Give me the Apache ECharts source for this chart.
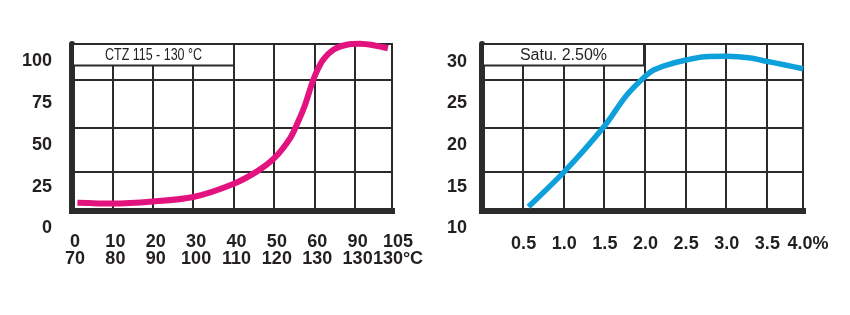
<!DOCTYPE html>
<html>
<head>
<meta charset="utf-8">
<script src="https://cdn.jsdelivr.net/npm/echarts@6/dist/echarts.min.js"></script>
<style>
  html, body { margin: 0; padding: 0; background: #fff; }
  #chart { width: 850px; height: 315px; }
</style>
</head>
<body>
<div id="chart"></div>
<script>
// left chart: x in tick-index units (ticks are labelled by two rows)
const leftTopLabels = ['0', '10', '20', '30', '40', '50', '60', '90', '105'];
const leftBottomLabels = ['70', '80', '90', '100', '110', '120', '130', '130', '130°C'];
const leftYTicks = [0, 25, 50, 75, 100];
const leftCurveX = [0.06, 0.91, 1.92, 2.93, 3.92, 4.51, 4.94, 5.33, 5.53, 5.70, 5.86, 5.99, 6.15, 6.40, 6.73, 7.06, 7.39, 7.75];
const leftCurveY = [15.4, 14.9, 16.1, 18.8, 26.6, 34.1, 42.1, 54.0, 64.0, 73.9, 85.9, 93.9, 100.8, 106.7, 109.7, 110.3, 109.4, 107.6];

// right chart: saturation %
const rightXTicks = [0.5, 1.0, 1.5, 2.0, 2.5, 3.0, 3.5, 4.0];
const rightYTicks = [10, 15, 20, 25, 30];
const rightCurveX = [0.56, 1.01, 1.48, 1.77, 1.99, 2.10, 2.26, 2.50, 2.73, 3.0, 3.29, 3.49, 3.72, 3.94];
const rightCurveY = [12.6, 16.9, 22.1, 26.0, 28.2, 29.0, 29.6, 30.2, 30.6, 30.65, 30.44, 30.05, 29.6, 29.16];

const leftTitle = 'CTZ 115 - 130 °C';
const rightTitle = 'Satu. 2.50%';

const font = '"Liberation Sans", Arial, sans-serif';
const ink = '#2b2b2b';
const rowLines = [23.8, 49.7, 78.4]; // horizontal frame lines, % of frame height

function zip(xs, ys) {
  return xs.map((x, i) => [x, ys[i]]);
}

function labelAxisX(gridIndex, min, max, interval, formatter, margin) {
  return {
    type: 'value', gridIndex, min, max, interval,
    axisLine: { show: false }, axisTick: { show: false }, splitLine: { show: false },
    axisLabel: {
      margin, formatter, showMinLabel: true, showMaxLabel: true, hideOverlap: false,
      fontFamily: font, fontSize: 18, fontWeight: 'bold', color: '#231f20', lineHeight: 17
    }
  };
}

function labelAxisY(gridIndex, min, max, ticks, margin) {
  return {
    type: 'value', gridIndex, min, max, interval: ticks[1] - ticks[0],
    axisLine: { show: false }, axisTick: { show: false }, splitLine: { show: false },
    axisLabel: {
      margin, showMaxLabel: false,
      formatter: v => (ticks.indexOf(v) >= 0 ? String(v) : ''),
      fontFamily: font, fontSize: 18, fontWeight: 'bold', color: '#231f20'
    }
  };
}

function frameX(gridIndex, max) {
  return {
    type: 'value', gridIndex, min: 0, max, interval: 1,
    axisLine: { show: true, lineStyle: { color: ink, width: 6, cap: 'square' } },
    axisTick: { show: false }, axisLabel: { show: false },
    splitLine: { show: true, lineStyle: { color: ink, width: 2 } }
  };
}

function frameY(gridIndex, offset) {
  return {
    type: 'value', gridIndex, min: 0, max: 100, offset,
    axisLine: { show: true, lineStyle: { color: ink, width: 6 } },
    axisTick: { show: false }, axisLabel: { show: false }, splitLine: { show: false }
  };
}

function frameSeries(axisIndex) {
  return {
    type: 'line', xAxisIndex: axisIndex, yAxisIndex: axisIndex, data: [], z: 1,
    silent: true,
    markLine: {
      silent: true, symbol: 'none', label: { show: false },
      lineStyle: { color: ink, width: 2, type: 'solid' },
      emphasis: { disabled: true },
      data: rowLines.map(v => ({ yAxis: v }))
    }
  };
}

function titleBox(x, text, squeeze) {
  return [
    {
      type: 'rect', z: 10,
      shape: { x: x, y: 44, width: 161, height: 21.5 },
      style: { fill: '#fff', stroke: ink, lineWidth: 2 }
    },
    {
      type: 'text', z: 11, x: x + 80.5, y: 55.5, scaleX: squeeze,
      style: {
        text, fill: '#231f20', font: '16px ' + font,
        textAlign: 'center', textVerticalAlign: 'middle'
      }
    }
  ];
}

const chart = echarts.init(document.getElementById('chart'));

chart.setOption({
  animation: false,
  grid: [
    { left: 75, top: 40, width: 323, height: 188.5 },
    { left: 72, top: 44, width: 320, height: 167, show: true, borderColor: ink, borderWidth: 2 },
    { left: 483, top: 40, width: 325, height: 188.5 },
    { left: 482, top: 44, width: 321, height: 167, show: true, borderColor: ink, borderWidth: 2 }
  ],
  xAxis: [
    labelAxisX(0, 0, 8, 1, v => leftTopLabels[v] + '\n' + leftBottomLabels[v], 5.5),
    frameX(1, 320 / 40.4),
    labelAxisX(2, 0, 4, 0.5, v => {
      if (rightXTicks.indexOf(v) < 0) return '';
      return v === 4 ? v.toFixed(1) + '%' : v.toFixed(1);
    }, 7),
    frameX(3, 321 / 40.7)
  ],
  yAxis: [
    labelAxisY(0, 0, 188.5 / 1.675, leftYTicks, 23),
    frameY(1, 2.5),
    labelAxisY(2, 10, 10 + 188.5 / 8.34, rightYTicks, 16),
    frameY(3, 2)
  ],
  graphic: { elements: titleBox(73, leftTitle, 0.78).concat(titleBox(483, rightTitle, 1)) },
  series: [
    frameSeries(1),
    frameSeries(3),
    {
      type: 'line', xAxisIndex: 0, yAxisIndex: 0, z: 5,
      data: zip(leftCurveX, leftCurveY),
      smooth: 0.3, showSymbol: false, clip: false,
      lineStyle: { color: '#e2127f', width: 6 }
    },
    {
      type: 'line', xAxisIndex: 2, yAxisIndex: 2, z: 5,
      data: zip(rightCurveX, rightCurveY),
      smooth: 0.3, showSymbol: false, clip: false,
      lineStyle: { color: '#0ea0db', width: 5.5 }
    }
  ]
});
</script>
</body>
</html>
